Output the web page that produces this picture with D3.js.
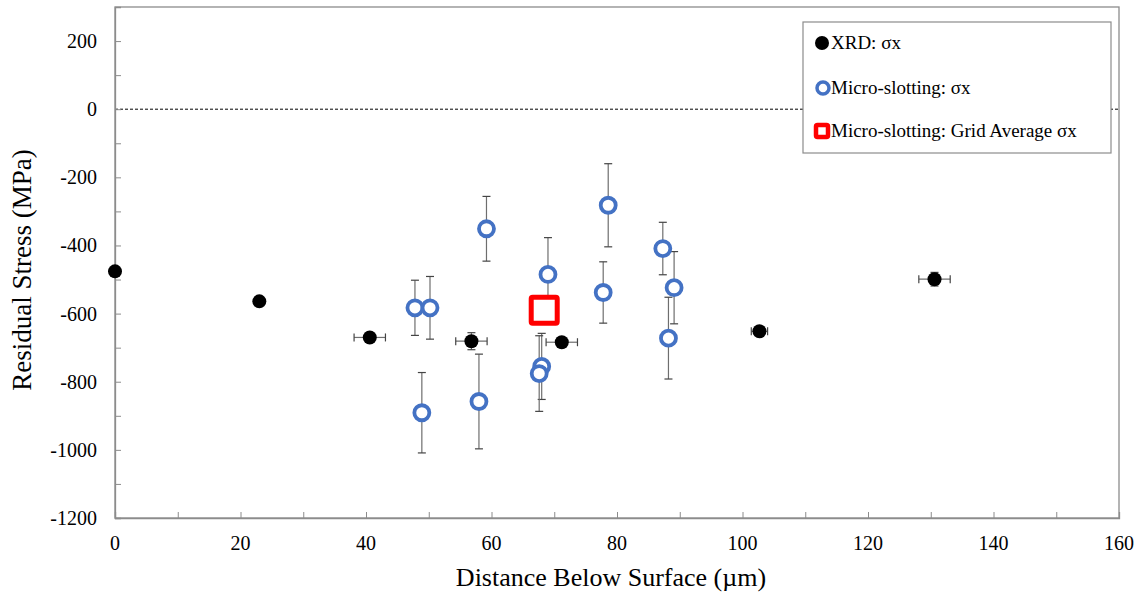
<!DOCTYPE html>
<html>
<head>
<meta charset="utf-8">
<script src="https://cdn.jsdelivr.net/npm/d3@7/dist/d3.min.js"></script>
<style>
  html, body { margin: 0; padding: 0; background: #fff; }
  svg text { font-family: "Liberation Serif", "Times New Roman", serif; fill: #000; }
</style>
</head>
<body>
<svg id="chart" width="1144" height="594"></svg>
<script>
// XRD measurements: depth (µm), stress (MPa), depth error, stress error
const xrdDepth  = [0, 23, 40.6, 56.8, 71.2, 102.7, 130.6];
const xrdStress = [-476, -564, -670, -681, -684, -652, -499];
const xrdDepthErr  = [0, 0, 2.5, 2.5, 2.5, 1.3, 2.5];
const xrdStressErr = [0, 0, 12, 25, 0, 0, 20];

// Micro-slotting measurements: depth (µm), stress (MPa), stress error
const slotDepth  = [47.8, 50.2, 59.2, 69.0, 77.8, 78.6, 87.3, 89.1, 88.2, 48.9, 58.0, 68.0, 67.6];
const slotStress = [-583, -583, -351, -485, -538, -282, -409, -524, -672, -891, -858, -755, -776];
const slotErr    = [81, 92, 95, 108, 90, 122, 77, 106, 120, 118, 139, 97, 111];

// Grid average of the micro-slotting results
const gridDepth  = [68.4];
const gridStress = [-590];

const xTicks = d3.range(0, 161, 20);
const yTicks = d3.range(-1200, 201, 200);
const legendLabels = ["XRD: σx", "Micro-slotting: σx", "Micro-slotting: Grid Average σx"];

const serif = "'Liberation Serif', 'Times New Roman', serif";
const svg = d3.select("#chart");
const plotL = 115, plotR = 1119, plotT = 7, plotB = 518;

const x = d3.scaleLinear().domain([0, 160]).range([plotL, plotR]);
const y = d3.scaleLinear().domain([-1200, 300]).range([plotB, plotT]);

// plot frame
svg.append("rect")
  .attr("x", plotL).attr("y", plotT)
  .attr("width", plotR - plotL).attr("height", plotB - plotT)
  .attr("fill", "none").attr("stroke", "#8c8c8c").attr("stroke-width", 1.3);

// zero reference line
svg.append("line")
  .attr("x1", plotL).attr("x2", plotR)
  .attr("y1", y(0)).attr("y2", y(0))
  .attr("stroke", "#000").attr("stroke-width", 1)
  .attr("stroke-dasharray", "3,2");

// axes with inward ticks
const xAxis = d3.axisBottom(x).tickValues(d3.range(0, 161, 10)).tickSize(-6).tickFormat("");
const gx = svg.append("g").attr("transform", `translate(0,${plotB})`).call(xAxis);
const yAxis = d3.axisLeft(y).tickValues(d3.range(-1200, 201, 100)).tickSize(-6).tickFormat("");
const gy = svg.append("g").attr("transform", `translate(${plotL},0)`).call(yAxis);
[gx, gy].forEach(g => {
  g.select(".domain").attr("stroke", "#8c8c8c").attr("stroke-width", 1.3);
  g.selectAll(".tick line").attr("stroke", "#8c8c8c");
});

svg.append("g").selectAll("text").data(xTicks).join("text")
  .attr("x", d => x(d)).attr("y", 550)
  .attr("text-anchor", "middle").attr("font-size", 20).attr("font-family", serif)
  .text(d => d);

svg.append("g").selectAll("text").data(yTicks).join("text")
  .attr("x", 97).attr("y", d => y(d) + 7)
  .attr("text-anchor", "end").attr("font-size", 20).attr("font-family", serif)
  .text(d => d);

svg.append("text")
  .attr("x", 611).attr("y", 586)
  .attr("text-anchor", "middle").attr("font-size", 26).attr("font-family", serif)
  .text("Distance Below Surface (µm)");

svg.append("text")
  .attr("transform", "translate(31,270) rotate(-90)")
  .attr("text-anchor", "middle").attr("font-size", 27).attr("font-family", serif)
  .text("Residual Stress (MPa)");

// error bars
const errColor = "#6e6e6e", cap = 4;
const eb = svg.append("g").attr("stroke", errColor).attr("stroke-width", 1.2);

slotDepth.forEach((d, i) => {
  const cx = x(d), y1 = y(slotStress[i] + slotErr[i]), y2 = y(slotStress[i] - slotErr[i]);
  eb.append("line").attr("x1", cx).attr("x2", cx).attr("y1", y1).attr("y2", y2);
  eb.append("line").attr("x1", cx - cap).attr("x2", cx + cap).attr("y1", y1).attr("y2", y1).attr("stroke", "#444");
  eb.append("line").attr("x1", cx - cap).attr("x2", cx + cap).attr("y1", y2).attr("y2", y2).attr("stroke", "#444");
});

xrdDepth.forEach((d, i) => {
  const cy = y(xrdStress[i]);
  if (xrdDepthErr[i] > 0) {
    const x1 = x(d - xrdDepthErr[i]), x2 = x(d + xrdDepthErr[i]);
    eb.append("line").attr("x1", x1).attr("x2", x2).attr("y1", cy).attr("y2", cy);
    eb.append("line").attr("x1", x1).attr("x2", x1).attr("y1", cy - cap).attr("y2", cy + cap).attr("stroke", "#444");
    eb.append("line").attr("x1", x2).attr("x2", x2).attr("y1", cy - cap).attr("y2", cy + cap).attr("stroke", "#444");
  }
  if (xrdStressErr[i] > 0) {
    const cx = x(d), y1 = y(xrdStress[i] + xrdStressErr[i]), y2 = y(xrdStress[i] - xrdStressErr[i]);
    eb.append("line").attr("x1", cx).attr("x2", cx).attr("y1", y1).attr("y2", y2);
    eb.append("line").attr("x1", cx - cap).attr("x2", cx + cap).attr("y1", y1).attr("y2", y1).attr("stroke", "#444");
    eb.append("line").attr("x1", cx - cap).attr("x2", cx + cap).attr("y1", y2).attr("y2", y2).attr("stroke", "#444");
  }
});

// markers
svg.append("g").selectAll("circle").data(xrdDepth).join("circle")
  .attr("cx", d => x(d)).attr("cy", (d, i) => y(xrdStress[i]))
  .attr("r", 7).attr("fill", "#000");

svg.append("g").selectAll("circle").data(slotDepth).join("circle")
  .attr("cx", d => x(d)).attr("cy", (d, i) => y(slotStress[i]))
  .attr("r", 7.5).attr("fill", "#fff")
  .attr("stroke", "#4472c4").attr("stroke-width", 3.8);

svg.append("g").selectAll("rect").data(gridDepth).join("rect")
  .attr("x", d => x(d) - 13).attr("y", (d, i) => y(gridStress[i]) - 13)
  .attr("width", 26).attr("height", 26).attr("rx", 1.5)
  .attr("fill", "#fff").attr("stroke", "#ff0000").attr("stroke-width", 5);

// legend
const lg = svg.append("g");
lg.append("rect").attr("x", 803).attr("y", 22).attr("width", 308).attr("height", 131)
  .attr("fill", "#fff").attr("stroke", "#8c8c8c").attr("stroke-width", 1.2);
const ly = [43, 88, 131];
lg.append("circle").attr("cx", 822).attr("cy", ly[0]).attr("r", 7).attr("fill", "#000");
lg.append("circle").attr("cx", 823).attr("cy", ly[1]).attr("r", 6).attr("fill", "#fff")
  .attr("stroke", "#4472c4").attr("stroke-width", 3.5);
lg.append("rect").attr("x", 816).attr("y", ly[2] - 6).attr("width", 12).attr("height", 12).attr("rx", 1.5)
  .attr("fill", "#fff").attr("stroke", "#ff0000").attr("stroke-width", 4.5);
legendLabels.forEach((t, i) => {
  lg.append("text").attr("x", 831).attr("y", ly[i] + 6).attr("font-size", 19).attr("font-family", serif)
    .style("white-space", "pre")
    .text(t);
});
</script>
</body>
</html>
